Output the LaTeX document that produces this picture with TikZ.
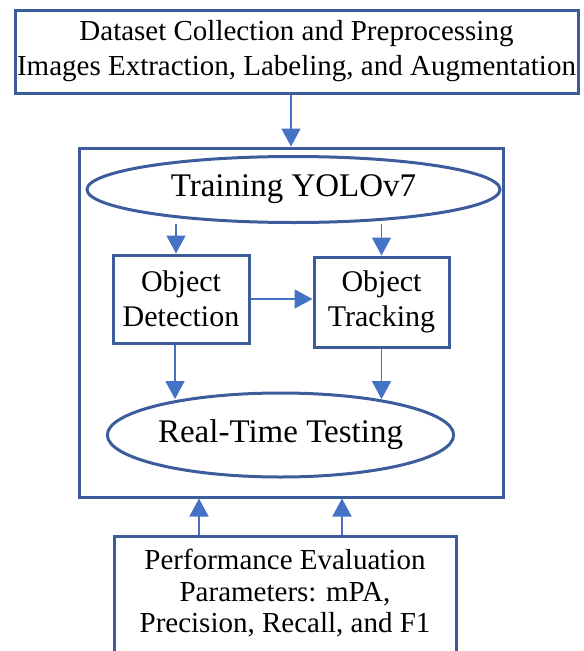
\documentclass[tikz,border=0pt]{standalone}
\usepackage{fontspec}
\setmainfont{Liberation Serif}
\usetikzlibrary{arrows.meta,shapes.geometric}
\definecolor{boxblue}{HTML}{3D5C9C}
\definecolor{arrowblue}{HTML}{4472C4}
\tikzset{
  box/.style={draw=boxblue,line width=3pt,align=center,inner sep=0pt},
  oval/.style={ellipse,draw=boxblue,line width=3pt,inner sep=0pt},
}
\begin{document}
\begin{tikzpicture}[x=1pt,y=-1pt]
\useasboundingbox (0,0) rectangle (584,651);
\node[box,minimum width=424pt,minimum height=349pt] (frame) at (291,322.5) {};
\node[box,minimum width=563pt,minimum height=83pt,font=\fontsize{29}{35}\selectfont] (data) at (296.5,51.5) {Dataset Collection and Preprocessing\\Images Extraction, Labeling, and Augmentation};
\node[oval,minimum width=413pt,minimum height=66pt,font=\fontsize{33}{38}\selectfont] (train) at (293.5,189.5) {Training YOLOv7};
\node[box,minimum width=136pt,minimum height=88pt,font=\fontsize{30}{35}\selectfont] (od) at (181,299) {Object\\Detection};
\node[box,minimum width=135pt,minimum height=90pt,font=\fontsize{30}{35}\selectfont] (ot) at (381.5,302) {Object\\Tracking};
\node[oval,minimum width=335pt,minimum height=84pt,font=\fontsize{33}{38}\selectfont] (rt) at (280.5,435) {Real-Time Testing};
\node[box,anchor=north,inner ysep=13pt,font=\fontsize{29}{31.5}\selectfont] (eval) at (285,535)
  {\parbox[t][130pt][t]{342pt}{\centering Performance Evaluation\\Parameters: mPA,\\Precision, Recall, and F1}};
\path[-{Triangle[width=19pt,length=18pt]},color=arrowblue,line width=1.6pt]
(data.south -| frame.north) edge (frame.north)
([xshift=-5pt]od.north |- train.south) edge ([xshift=-5pt]od.north)
(ot.north |- train.south) edge (ot.north)
(od.east) edge (od.east -| ot.west)
([xshift=-6pt]od.south) edge ([xshift=-6pt]od.south |- rt.160)
(ot.south) edge (ot.south |- rt.20)
([xshift=-86pt]eval.north) edge ([xshift=-86pt]eval.north |- frame.south)
([xshift=57pt]eval.north) edge ([xshift=57pt]eval.north |- frame.south)
;
\end{tikzpicture}
\end{document}
